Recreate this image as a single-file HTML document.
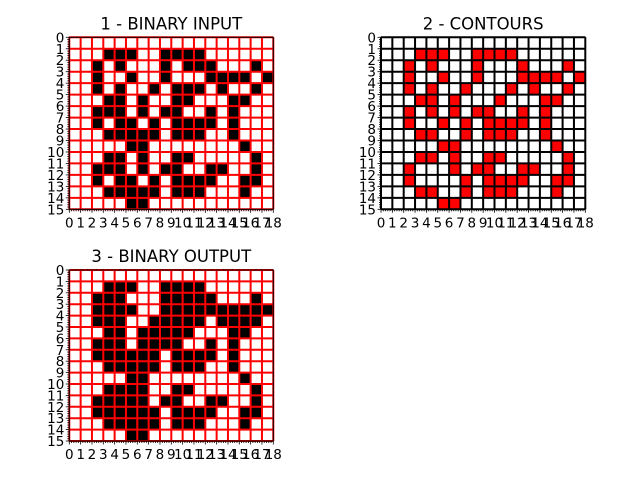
<!DOCTYPE html>
<html><head><meta charset="utf-8"><style>
body{margin:0;background:#fff}
svg{display:block;font-family:"DejaVu Sans","Liberation Sans",sans-serif}
</style></head><body>
<svg id="c" width="640" height="480" viewBox="0 0 640 480"></svg>
<script>
const nCols = 18, nRows = 15;
const inputRows = [[],[3,4,5,8,9,10,11],[2,4,8,10,11,12,16],[2,5,8,12,13,14,15,17],[2,4,7,9,10,11,13,16],[3,4,6,9,10,14,15],[2,3,4,6,8,9,12,14],[2,4,5,7,9,10,11,12,14],[3,4,5,6,7,9,10,11,14],[5,6,15],[3,4,6,9,10,16],[2,3,4,6,8,9,12,13,16],[2,4,5,7,9,10,11,12,15,16],[3,4,5,6,7,9,10,11,15],[5,6]];
const contourRows = [[],[3,4,5,8,9,10,11],[2,4,8,12,16],[2,5,8,12,13,14,15,17],[2,4,7,11,13,16],[3,4,6,10,14,15],[2,4,6,8,9,12,14],[2,5,7,9,10,11,12,14],[3,4,7,9,10,11,14],[5,6,15],[3,4,6,9,10,16],[2,6,8,9,12,13,16],[2,7,9,10,11,12,15,16],[3,4,7,9,10,11,15],[5,6]];
const outputRows = [[],[3,4,5,8,9,10,11],[2,3,4,8,9,10,11,12,16],[2,3,4,5,8,9,10,11,12,13,14,15,16,17],[2,3,4,7,8,9,10,11,13,14,15,16],[3,4,6,7,8,9,10,14,15],[2,3,4,6,7,8,9,12,14],[2,3,4,5,6,7,9,10,11,12,14],[3,4,5,6,7,9,10,11,14],[5,6,15],[3,4,5,6,9,10,16],[2,3,4,5,6,8,9,12,13,16],[2,3,4,5,6,7,9,10,11,12,15,16],[3,4,5,6,7,9,10,11,15],[5,6]];
const titles = ["1 - BINARY INPUT","2 - CONTOURS","3 - BINARY OUTPUT"];

const NS="http://www.w3.org/2000/svg", svg=document.getElementById('c');
function mk(t,a,p){const e=document.createElementNS(NS,t);for(const k in a)e.setAttribute(k,a[k]);(p||svg).appendChild(e);return e;}
const panels=[
 {x0:69.3,x1:273.3,y0:37.3,y1:209.3,data:inputRows,fill:'#000',edge:'#f00',name:'binary-input'},
 {x0:381,x1:585.3,y0:37.3,y1:209.3,data:contourRows,fill:'#f00',edge:'#000',name:'contours'},
 {x0:69.3,x1:273.3,y0:270,y1:441,data:outputRows,fill:'#000',edge:'#f00',name:'binary-output'}];
panels.forEach((p,pi)=>{
 const g=mk('g',{});
 
 
 const sx=v=>p.x0+(p.x1-p.x0)*v/nCols, sy=v=>p.y0+(p.y1-p.y0)*v/nRows;
 mk('rect',{x:p.x0,y:p.y0,width:p.x1-p.x0,height:p.y1-p.y0,fill:'#fff'},g);
 p.data.forEach((row,r)=>row.forEach(c=>{
  const e=mk('rect',{x:sx(c),y:sy(r),width:sx(c+1)-sx(c),height:sy(r+1)-sy(r),fill:p.fill},g);
  
  
 }));
 for(let i=0;i<=nCols;i++)mk('line',{x1:sx(i),x2:sx(i),y1:p.y0,y2:p.y1,stroke:p.edge,'stroke-width':2},g);
 for(let j=0;j<=nRows;j++)mk('line',{x1:p.x0,x2:p.x1,y1:sy(j),y2:sy(j),stroke:p.edge,'stroke-width':2},g);
 mk('rect',{x:p.x0,y:p.y0,width:p.x1-p.x0,height:p.y1-p.y0,fill:'none',stroke:'#000','stroke-width':1},g);
 for(let i=0;i<=nCols*5;i++){const x=sx(i/5),L=i%5?2:3.5;mk('line',{x1:x,x2:x,y1:p.y1,y2:p.y1+L,stroke:'#000','stroke-width':0.8},g);}
 for(let j=0;j<=nRows*5;j++){const y=sy(j/5),L=j%5?2:3.5;mk('line',{x1:p.x0-L,x2:p.x0,y1:y,y2:y,stroke:'#000','stroke-width':0.8},g);}
 for(let i=0;i<=nCols;i++){const t=mk('text',{x:sx(i),y:p.y1+18,'font-size':13.5,'text-anchor':'middle'},g);t.textContent=i;
  }
 for(let j=0;j<=nRows;j++){const t=mk('text',{x:p.x0-5,y:sy(j)+5,'font-size':13.5,'text-anchor':'end'},g);t.textContent=j;
  }
 const t=mk('text',{x:(p.x0+p.x1)/2,y:p.y0-8,'font-size':16.5,'text-anchor':'middle'},g);t.textContent=titles[pi];
 
});
</script>
</body></html>
